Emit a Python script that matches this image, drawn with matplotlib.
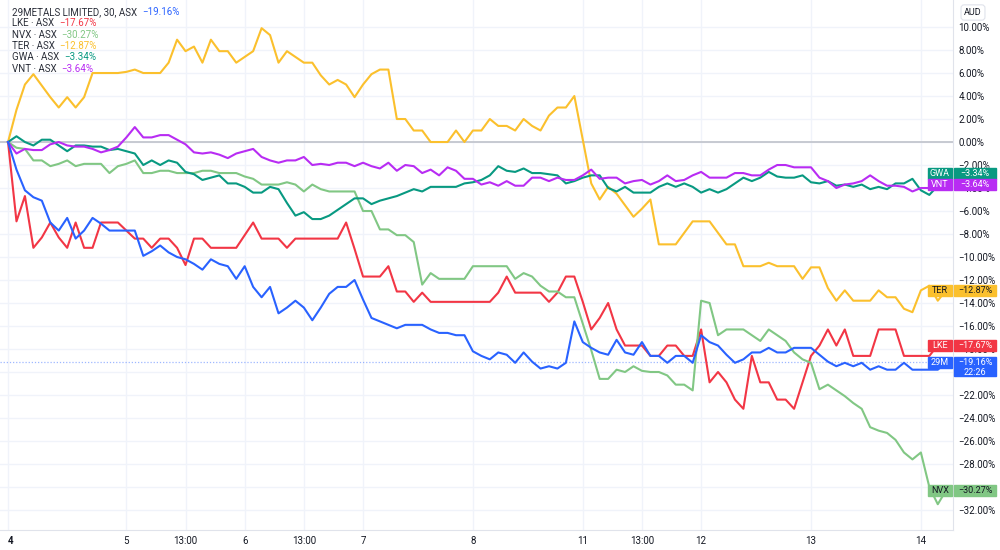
import numpy as np
import matplotlib.pyplot as plt
from matplotlib import transforms
from matplotlib.patches import Rectangle

plt.rcParams['font.family'] = ['Roboto', 'DejaVu Sans']

# % change per 30 min bar, bar index 0..111
m29 = [0, -2.4, -4.2, -4.8, -5.1, -7.0, -7.7, -6.6, -8.4, -7.7, -6.6, -7.1, -7.7, -7.7,
       -7.7, -7.7, -9.9, -9.5, -9.0, -9.6, -10.0, -10.2, -10.6, -11.1, -10.2, -10.6, -10.8, -11.9,
       -10.8, -12.6, -13.5, -12.6, -14.9, -14.4, -13.8, -14.4, -15.5, -14.4, -13.2, -12.6, -12.6, -12.0,
       -13.7, -15.3, -15.6, -15.9, -16.2, -15.9, -15.9, -15.9, -16.3, -16.6, -16.6, -16.8, -16.8,
       -18.2, -18.6, -18.9, -18.3, -18.5, -19.2, -18.3, -19.1, -19.7, -19.5, -19.7, -19.2, -15.6,
       -17.4, -17.9, -18.3, -18.5, -17.2, -18.3, -18.5, -17.4, -18.6, -18.6, -19.2, -18.6, -18.6,
       -19.2, -16.8, -17.4, -17.7, -18.5, -19.2, -18.9, -18.3, -18.3, -17.9, -18.3, -18.3, -17.9,
       -17.9, -17.9, -18.5, -19.1, -19.5, -19.2, -19.5, -19.2, -19.8, -19.5, -19.8, -19.8, -19.2,
       -19.8, -19.8, -19.8, -19.8, -19.16]
lke = [0, -6.9, -4.7, -9.2, -8.3, -7.0, -8.3, -9.2, -7.0, -9.2, -9.2, -7.0, -7.0, -7.0,
       -7.7, -8.4, -8.4, -9.2, -8.4, -8.4, -9.2, -10.7, -8.4, -8.4, -9.2, -9.2, -9.2, -9.2,
       -8.1, -7.0, -8.4, -8.4, -8.4, -9.2, -8.4, -8.4, -8.4, -8.4, -8.4, -8.4, -7.0, -9.3,
       -11.7, -11.7, -11.7, -10.8, -13.0, -13.0, -13.9, -13.1, -13.9, -13.9, -13.9, -13.9, -13.9,
       -13.9, -13.9, -13.9, -13.1, -11.7, -13.1, -13.1, -13.1, -13.1, -13.9, -13.1, -11.7, -11.7,
       -13.9, -16.3, -15.3, -14.0, -16.3, -17.7, -17.7, -17.7, -18.6, -18.6, -17.7, -17.7, -18.6,
       -18.6, -16.3, -20.9, -20.0, -20.9, -22.4, -23.2, -18.6, -20.9, -20.9, -22.4, -22.4, -23.2,
       -20.9, -18.6, -17.7, -16.3, -17.7, -16.3, -18.6, -18.6, -18.6, -16.3, -16.3, -16.3, -18.6,
       -18.6, -18.6, -18.6, -17.67, -17.67]
nvx = [0, -0.5, -0.6, -1.6, -1.6, -2.1, -1.9, -1.6, -2.1, -1.9, -1.9, -1.9, -2.7, -2.1,
       -1.9, -1.6, -2.7, -2.7, -2.5, -2.5, -2.7, -2.7, -2.7, -2.5, -2.5, -2.7, -2.7, -2.7,
       -3.0, -3.2, -3.7, -3.7, -3.7, -3.5, -3.7, -4.3, -3.7, -4.1, -4.3, -4.3, -4.3, -4.3,
       -6.0, -6.0, -7.6, -7.6, -8.1, -8.1, -8.7, -12.4, -11.4, -11.9, -11.9, -11.9, -11.9,
       -10.8, -10.8, -10.8, -10.8, -10.8, -11.9, -11.4, -11.7, -12.5, -13.0, -13.0, -13.5, -13.5,
       -15.8, -18.1, -20.6, -20.6, -19.8, -20.0, -19.5, -19.9, -20.0, -20.0, -20.3, -21.1, -21.1,
       -21.6, -13.8, -14.0, -16.8, -16.3, -16.3, -16.3, -16.8, -17.3, -16.3, -16.8, -17.3, -18.3,
       -18.9, -19.2, -21.5, -21.1, -21.6, -22.1, -22.7, -23.2, -24.8, -25.1, -25.3, -25.9, -27.0,
       -27.6, -27.0, -30.0, -31.5, -30.27]
ter = [0, 2.8, 5.0, 5.9, 4.9, 3.9, 3.0, 3.9, 3.0, 3.9, 6.0, 6.0, 6.0, 6.0,
       6.1, 6.3, 6.0, 6.0, 6.0, 6.9, 8.9, 7.9, 8.3, 6.9, 8.9, 7.9, 7.9, 6.9,
       7.4, 7.9, 9.9, 9.3, 6.9, 7.9, 7.4, 6.9, 6.9, 5.8, 5.0, 5.4, 5.0, 3.9,
       5.0, 5.9, 6.3, 6.3, 2.0, 2.0, 1.0, 1.0, 0.0, 0.0, 0.0, 1.0, 0.0,
       1.0, 1.0, 2.0, 1.4, 1.4, 1.0, 2.0, 1.4, 1.0, 2.3, 3.0, 3.0, 4.0,
       0.2, -3.6, -5.0, -3.9, -4.5, -5.5, -6.5, -5.8, -5.0, -8.9, -8.9, -8.9, -7.9,
       -6.9, -6.9, -6.9, -7.9, -8.9, -8.9, -10.8, -10.8, -10.8, -10.5, -10.8, -10.8, -10.8,
       -11.9, -10.9, -10.9, -12.7, -13.8, -12.9, -13.8, -13.8, -13.8, -12.9, -13.5, -13.5, -14.5,
       -14.8, -12.9, -12.5, -13.8, -12.87]
gwa = [0, 0.5, 0.0, -0.3, 0.2, 0.2, -0.3, -0.8, -0.3, -0.3, -0.4, -0.4, -0.7, -0.6,
       -0.8, -1.0, -2.0, -1.6, -2.0, -1.6, -1.8, -2.6, -2.8, -3.3, -3.1, -2.9, -3.6, -3.6,
       -3.9, -4.4, -4.4, -3.9, -4.1, -5.3, -6.4, -6.1, -6.7, -6.7, -6.4, -5.9, -5.4, -4.9,
       -4.9, -5.4, -5.1, -4.9, -4.7, -4.4, -4.1, -4.3, -3.9, -3.9, -3.9, -3.9, -3.6,
       -3.5, -3.3, -2.9, -2.1, -2.5, -2.6, -2.3, -2.7, -2.7, -2.8, -2.9, -3.6, -3.4,
       -3.1, -2.9, -2.9, -4.0, -4.3, -3.9, -4.4, -4.4, -4.4, -3.9, -3.6, -3.9, -3.6,
       -3.9, -4.4, -4.1, -4.4, -4.1, -3.6, -3.1, -3.4, -3.1, -2.6, -3.0, -3.1, -3.1,
       -2.9, -3.5, -3.6, -3.4, -3.8, -3.7, -3.9, -3.7, -4.1, -3.9, -4.1, -3.6, -3.6,
       -3.2, -4.2, -4.6, -3.8, -3.34]
vnt = [0, -1.0, -0.6, -0.7, -0.7, -0.2, 0.0, -0.3, -0.4, -0.4, -0.6, -0.9, -0.7, -0.4,
       0.4, 1.3, 0.4, 0.4, 0.6, 0.6, 0.2, -0.2, -0.9, -1.0, -0.9, -1.1, -1.4, -1.0,
       -0.8, -0.6, -1.3, -1.6, -1.8, -1.6, -1.6, -1.3, -2.0, -1.9, -2.0, -1.8, -1.8, -2.1,
       -1.8, -2.1, -2.3, -1.8, -2.5, -2.0, -2.1, -2.7, -2.4, -2.9, -2.2, -2.5, -3.2,
       -3.2, -3.7, -3.5, -3.8, -3.4, -3.8, -3.8, -3.1, -3.1, -3.4, -3.1, -3.3, -3.3,
       -2.9, -2.4, -3.2, -3.1, -3.1, -3.6, -3.4, -3.3, -3.7, -3.4, -2.9, -3.4, -3.3,
       -2.9, -2.6, -3.1, -3.1, -3.1, -2.7, -2.7, -2.9, -2.9, -2.4, -2.0, -2.0, -2.2,
       -2.2, -2.2, -3.1, -3.4, -4.0, -3.7, -3.6, -3.4, -2.9, -3.4, -3.8, -3.8, -3.9,
       -4.3, -4.0, -4.0, -3.8, -3.64]

tick_pos = [0, 14, 21, 28, 35, 42, 55, 68, 75, 82, 95, 108]
tick_lab = ['4', '5', '13:00', '6', '13:00', '7', '8', '11', '13:00', '12', '13', '14']
hidden_ticks = [-20, -30]  # covered by the 29M / NVX tags

names = ['29M', 'LKE', 'NVX', 'TER', 'GWA', 'VNT']
legend_names = ['29METALS LIMITED, 30, ASX', 'LKE · ASX', 'NVX · ASX', 'TER · ASX', 'GWA · ASX', 'VNT · ASX']
series = [m29, lke, nvx, ter, gwa, vnt]
colors = ['#2962ff', '#f23645', '#81c784', '#fbc02d', '#089981', '#b82cf3']
tag_text = ['white', 'white', '#131722', '#131722', 'white', 'white']


def pct(v):
    return f'{v:.2f}%'.replace('-', '\u2212')


def ylab(v, p):
    if round(v) in hidden_ticks:
        return ''
    return pct(v)


fig = plt.figure(figsize=(10, 5.5), dpi=100)
ax = fig.add_axes([0, 20 / 550, 953 / 1000, 530 / 550])
x = np.arange(len(m29))

for s, c in zip(series[1:], colors[1:]):
    ax.plot(x, s, color=c, lw=1.5, zorder=3)
ax.plot(x, m29, color=colors[0], lw=1.5, zorder=3.5)

ax.axhline(0, color='#c3c6ce', lw=1.3, zorder=2)
ax.axhline(m29[-1], color='#2962ff', lw=0.9, ls=(0, (1, 1.5)), alpha=0.45, zorder=2)

ax.set_xlim(-0.95, 111.8)
ax.set_ylim(-33.74, 12.35)
ax.set_xticks(tick_pos)
ax.set_xticklabels(tick_lab)
first = ax.get_xticklabels()[0]
first.set_fontweight('bold')
first.set_horizontalalignment('left')
ax.set_yticks(np.arange(-32, 11, 2))
ax.yaxis.set_major_formatter(plt.FuncFormatter(ylab))
ax.yaxis.tick_right()
ax.tick_params(axis='both', length=0, labelsize=7, colors='#131722')
ax.tick_params(axis='y', pad=4)
ax.tick_params(axis='x', pad=4)
ax.grid(True, color='#f0f3fa', lw=1)
ax.set_axisbelow(True)
for sp in ['top', 'left']:
    ax.spines[sp].set_visible(False)
for sp in ['right', 'bottom']:
    ax.spines[sp].set_color('#e0e3eb')

# legend
for k, (n, c, s) in enumerate(zip(legend_names, colors, series)):
    yy = 1 - (12 + 11.3 * k) / 550
    t = fig.text(12 / 1000, yy, n + '  ', fontsize=7, color='#2a2e39', va='center')
    fig.canvas.draw()
    bb = t.get_window_extent()
    fig.text(bb.x1 / 1000, yy, pct(s[-1]), fontsize=7, color=c, va='center')

# price scale tags
blend = transforms.blended_transform_factory(ax.transAxes, ax.transData)
h = 11 / 11.5
tag_y = {'GWA': -2.72, 'VNT': -3.72}
for n, c, s, tc in zip(names, colors, series, tag_text):
    yv = tag_y.get(n, s[-1])
    ax.add_patch(Rectangle((928 / 953, yv - h / 2), 24 / 953, h, transform=blend,
                           color=c, clip_on=False, zorder=6))
    ax.text(940 / 953, yv, n, transform=blend, ha='center', va='center',
            fontsize=6.5, color=tc, zorder=7, clip_on=False)
    hh = h * 1.75 if n == '29M' else h
    ax.add_patch(Rectangle((954 / 953, yv + h / 2 - hh), 42 / 953, hh, transform=blend,
                           color=c, clip_on=False, zorder=6))
    ax.text(975 / 953, yv, pct(s[-1]), transform=blend, ha='center', va='center',
            fontsize=6.5, color=tc, zorder=7, clip_on=False)
    if n == '29M':
        ax.text(975 / 953, yv - 0.85, '22:26', transform=blend, ha='center', va='center',
                fontsize=6.5, color=tc, zorder=7, clip_on=False)

fig.text(973 / 1000, 1 - 12.5 / 550, 'AUD', fontsize=6.5, color='#131722', ha='center', va='center',
         bbox=dict(boxstyle='round,pad=0.35', fc='white', ec='#e0e3eb', lw=0.8))

fig.savefig('out.png', dpi=100)
